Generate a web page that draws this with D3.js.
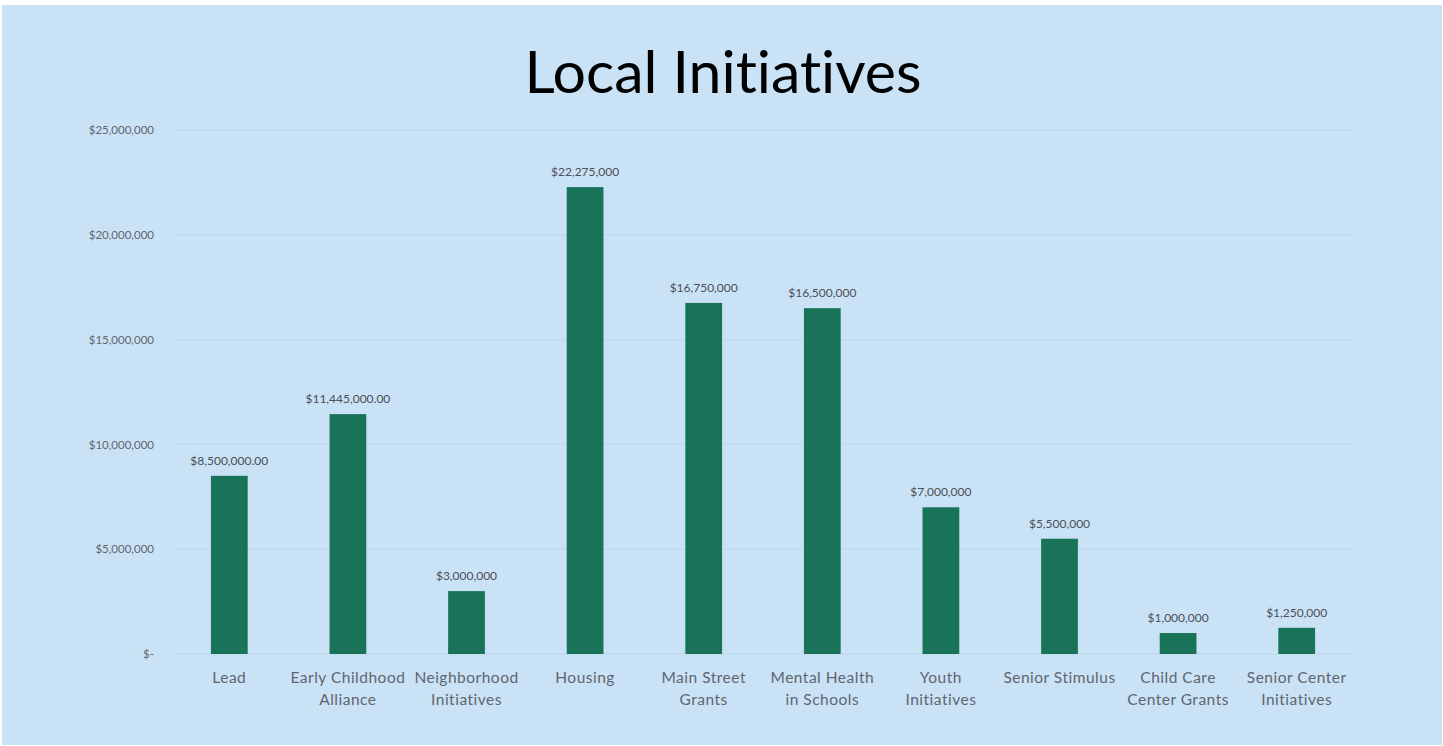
<!DOCTYPE html>
<html>
<head>
<meta charset="utf-8">
<script src="https://cdn.jsdelivr.net/npm/d3@7"></script>
<style>
  html, body { margin: 0; padding: 0; background: #ffffff; }
  svg { display: block; }
  text { font-variant-ligatures: none; font-feature-settings: "liga" 0, "clig" 0; }
</style>
</head>
<body>
<svg id="chart" width="1443" height="746"></svg>
<script>
// Funding per local initiative
const categories = [
  ["Lead"],
  ["Early Childhood", "Alliance"],
  ["Neighborhood", "Initiatives"],
  ["Housing"],
  ["Main Street", "Grants"],
  ["Mental Health", "in Schools"],
  ["Youth", "Initiatives"],
  ["Senior Stimulus"],
  ["Child Care", "Center Grants"],
  ["Senior Center", "Initiatives"]
];
const amounts = [8500000, 11445000, 3000000, 22275000, 16750000, 16500000, 7000000, 5500000, 1000000, 1250000];
const amountLabels = ["$8,500,000.00", "$11,445,000.00", "$3,000,000", "$22,275,000", "$16,750,000",
  "$16,500,000", "$7,000,000", "$5,500,000", "$1,000,000", "$1,250,000"];
const yTicks = [0, 5000000, 10000000, 15000000, 20000000, 25000000];
const yTickLabels = ["$-", "$5,000,000", "$10,000,000", "$15,000,000", "$20,000,000", "$25,000,000"];

const svg = d3.select("#chart");
const W = 1443, H = 746;
const font = "Lato, 'Open Sans', sans-serif";

// slide background
svg.append("rect").attr("x", 2).attr("y", 5).attr("width", W - 3).attr("height", H - 6)
  .attr("fill", "#cae2f5");

svg.append("text").attr("x", 723).attr("y", 93).attr("text-anchor", "middle")
  .attr("font-family", font).attr("font-size", 59).attr("fill", "#000")
  .text("Local Initiatives");

const plotLeft = 170, plotRight = 1356, plotTop = 130, plotBottom = 654;
const x = d3.scaleBand().domain(d3.range(categories.length)).range([plotLeft, plotRight])
  .paddingInner(0.69).paddingOuter(0.345);
const y = d3.scaleLinear().domain([0, 25000000]).range([plotBottom, plotTop]);

// gridlines
svg.append("g").selectAll("line").data(yTicks).join("line")
  .attr("x1", 172).attr("x2", 1352)
  .attr("y1", d => y(d)).attr("y2", d => y(d))
  .attr("stroke", "#bcd7ec").attr("stroke-width", 1);

// y axis labels
const yAxis = d3.axisLeft(y).tickValues(yTicks).tickSize(0).tickPadding(0)
  .tickFormat((d, i) => yTickLabels[i]);
const gy = svg.append("g").attr("transform", "translate(154,0)").call(yAxis);
gy.select(".domain").remove();
gy.selectAll("text").attr("font-family", font).attr("font-size", 11.5).attr("fill", "#5f6670");

// bars
svg.append("g").selectAll("rect").data(amounts).join("rect")
  .attr("x", (d, i) => x(i)).attr("width", x.bandwidth())
  .attr("y", d => y(d)).attr("height", d => plotBottom - y(d))
  .attr("fill", "#187359");

// value labels
svg.append("g").selectAll("text").data(amounts).join("text")
  .attr("x", (d, i) => x(i) + x.bandwidth() / 2).attr("y", d => y(d) - 11)
  .attr("text-anchor", "middle").attr("font-family", font).attr("font-size", 12)
  .attr("fill", "#4a4f57").text((d, i) => amountLabels[i]);

// category labels
const xl = svg.append("g").selectAll("text").data(categories).join("text")
  .attr("x", (d, i) => x(i) + x.bandwidth() / 2).attr("y", 683)
  .attr("text-anchor", "middle").attr("font-family", font).attr("font-size", 15.5)
  .attr("letter-spacing", 0.5).attr("fill", "#5f6670");
xl.selectAll("tspan").data(d => d).join("tspan")
  .attr("x", function () { return this.parentNode.getAttribute("x"); })
  .attr("dy", (d, i) => i === 0 ? 0 : 22).text(d => d);
</script>
</body>
</html>
